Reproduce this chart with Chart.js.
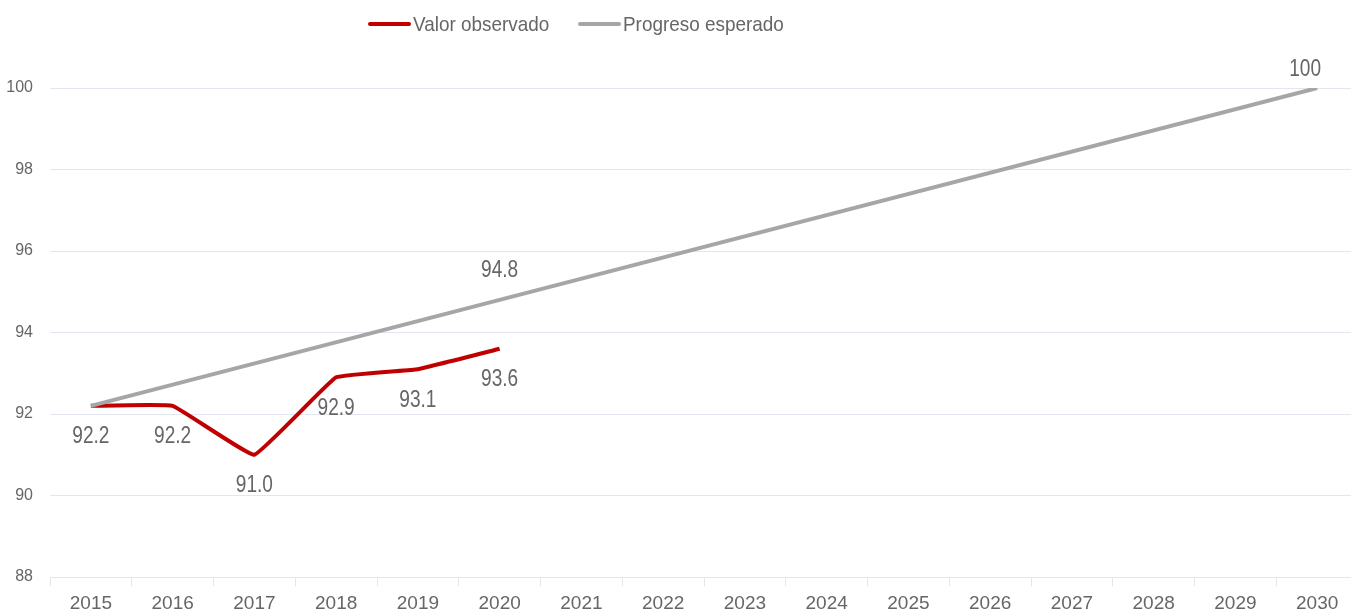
<!DOCTYPE html>
<html>
<head>
<meta charset="utf-8">
<script src="https://cdn.jsdelivr.net/npm/chart.js@4"></script>
<style>
  html, body { margin: 0; padding: 0; background: #fff; overflow: hidden; }
  #wrap { position: relative; width: 1358px; height: 613px; }
  .leg { position: absolute; top: 11px; display: flex; align-items: center; white-space: nowrap;
    font-family: 'Liberation Sans Narrow', 'Liberation Sans', 'DejaVu Sans', sans-serif; font-stretch: condensed;
    font-size: 21px; color: #666; line-height: 26px; }
  .leg .swatch { display: inline-block; width: 43px; height: 4px; border-radius: 2px; margin-right: 2px; }
  .leg .txt { display: inline-block; transform: scaleX(0.9); transform-origin: left center; }
</style>
</head>
<body>
<div id="wrap">
  <canvas id="myChart" width="1358" height="613"></canvas>
</div>
<script>
const FONT = "'Liberation Sans Narrow', 'Liberation Sans', 'DejaVu Sans', sans-serif";
const STRETCH = 'normal condensed'; // va en el campo weight para que el canvas use la variante estrecha si existe

// datos
const years = ['2015','2016','2017','2018','2019','2020','2021','2022','2023','2024','2025','2026','2027','2028','2029','2030'];
const observado = [92.2, 92.2, 91.0, 92.9, 93.1, 93.6, null, null, null, null, null, null, null, null, null, null];
const esperado  = [92.2, null, null, null, null, 94.8, null, null, null, null, null, null, null, null, null, 100];
const observadoLabels = ['92.2','92.2','91.0','92.9','93.1','93.6'];
const esperadoLabels  = [null, null, null, null, null, '94.8', null, null, null, null, null, null, null, null, null, '100'];
const yTicks = [88, 90, 92, 94, 96, 98, 100];

const series = [
  { label: 'Valor observado', color: '#C00000', labels: observadoLabels, dy: 31, legendX: 368 },
  { label: 'Progreso esperado', color: '#A6A6A6', labels: esperadoLabels, dy: -29, legendX: 578 }
];

// leyenda en html
let wrap = document.getElementById('wrap');
series.forEach(s => {
  let item = document.createElement('div');
  item.className = 'leg';
  item.style.left = s.legendX + 'px';
  item.innerHTML = '<span class="swatch" style="background:' + s.color + '"></span><span class="txt">' + s.label + '</span>';
  wrap.appendChild(item);
});

// etiquetas de datos (texto estrechado para parecerse a la fuente original)
const valueLabels = {
  id: 'valueLabels',
  afterDatasetsDraw(chart) {
    const ctx = chart.ctx;
    const sx = 0.83;
    ctx.save();
    ctx.font = STRETCH + ' 23px ' + FONT;
    ctx.fillStyle = '#666';
    ctx.textAlign = 'center';
    ctx.textBaseline = 'middle';
    chart.data.datasets.forEach((ds, i) => {
      const meta = chart.getDatasetMeta(i);
      meta.data.forEach((pt, j) => {
        const txt = series[i].labels[j];
        if (!txt) return;
        let dy = series[i].dy;
        let dx = 0;
        if (j === years.length - 1) { dy = -18; dx = -12; }
        ctx.save();
        ctx.translate(pt.x + dx, pt.y + dy);
        ctx.scale(sx, 1);
        ctx.fillText(txt, 0, 0);
        ctx.restore();
      });
    });
    ctx.restore();
  }
};

const ctx = document.getElementById('myChart');
const chart = new Chart(ctx, {
  type: 'line',
  data: {
    labels: years,
    datasets: [
      {
        label: series[0].label,
        data: observado,
        borderColor: series[0].color,
        borderWidth: 4,
        pointRadius: 0,
        tension: 0.08,
        fill: false,
        order: 2
      },
      {
        label: series[1].label,
        data: esperado,
        borderColor: series[1].color,
        borderWidth: 4,
        pointRadius: 0,
        spanGaps: true,
        fill: false,
        order: 1
      }
    ]
  },
  options: {
    responsive: false,
    animation: false,
    layout: { padding: { top: 88, left: 0, right: 0, bottom: 0 } },
    plugins: {
      legend: { display: false },
      tooltip: { enabled: false }
    },
    scales: {
      x: {
        offset: true,
        afterFit: (axis) => { axis.height = 36; },
        grid: { offset: true, drawOnChartArea: false, drawTicks: true, tickLength: 9, color: '#E3E6EE' },
        border: { color: '#E3E6EE', width: 1 },
        ticks: { color: '#666', font: { family: FONT, weight: STRETCH, size: 19 }, padding: 6, maxRotation: 0, autoSkip: false }
      },
      y: {
        min: 88,
        max: 100,
        afterFit: (axis) => { axis.width = 50; },
        afterBuildTicks: (axis) => { axis.ticks = yTicks.map(v => ({ value: v })); },
        grid: { color: '#E3E6EE', drawTicks: false },
        border: { display: false },
        ticks: { color: '#666', font: { family: FONT, weight: STRETCH, size: 16 }, padding: 17 }
      }
    }
  },
  plugins: [valueLabels]
});
</script>
</body>
</html>
